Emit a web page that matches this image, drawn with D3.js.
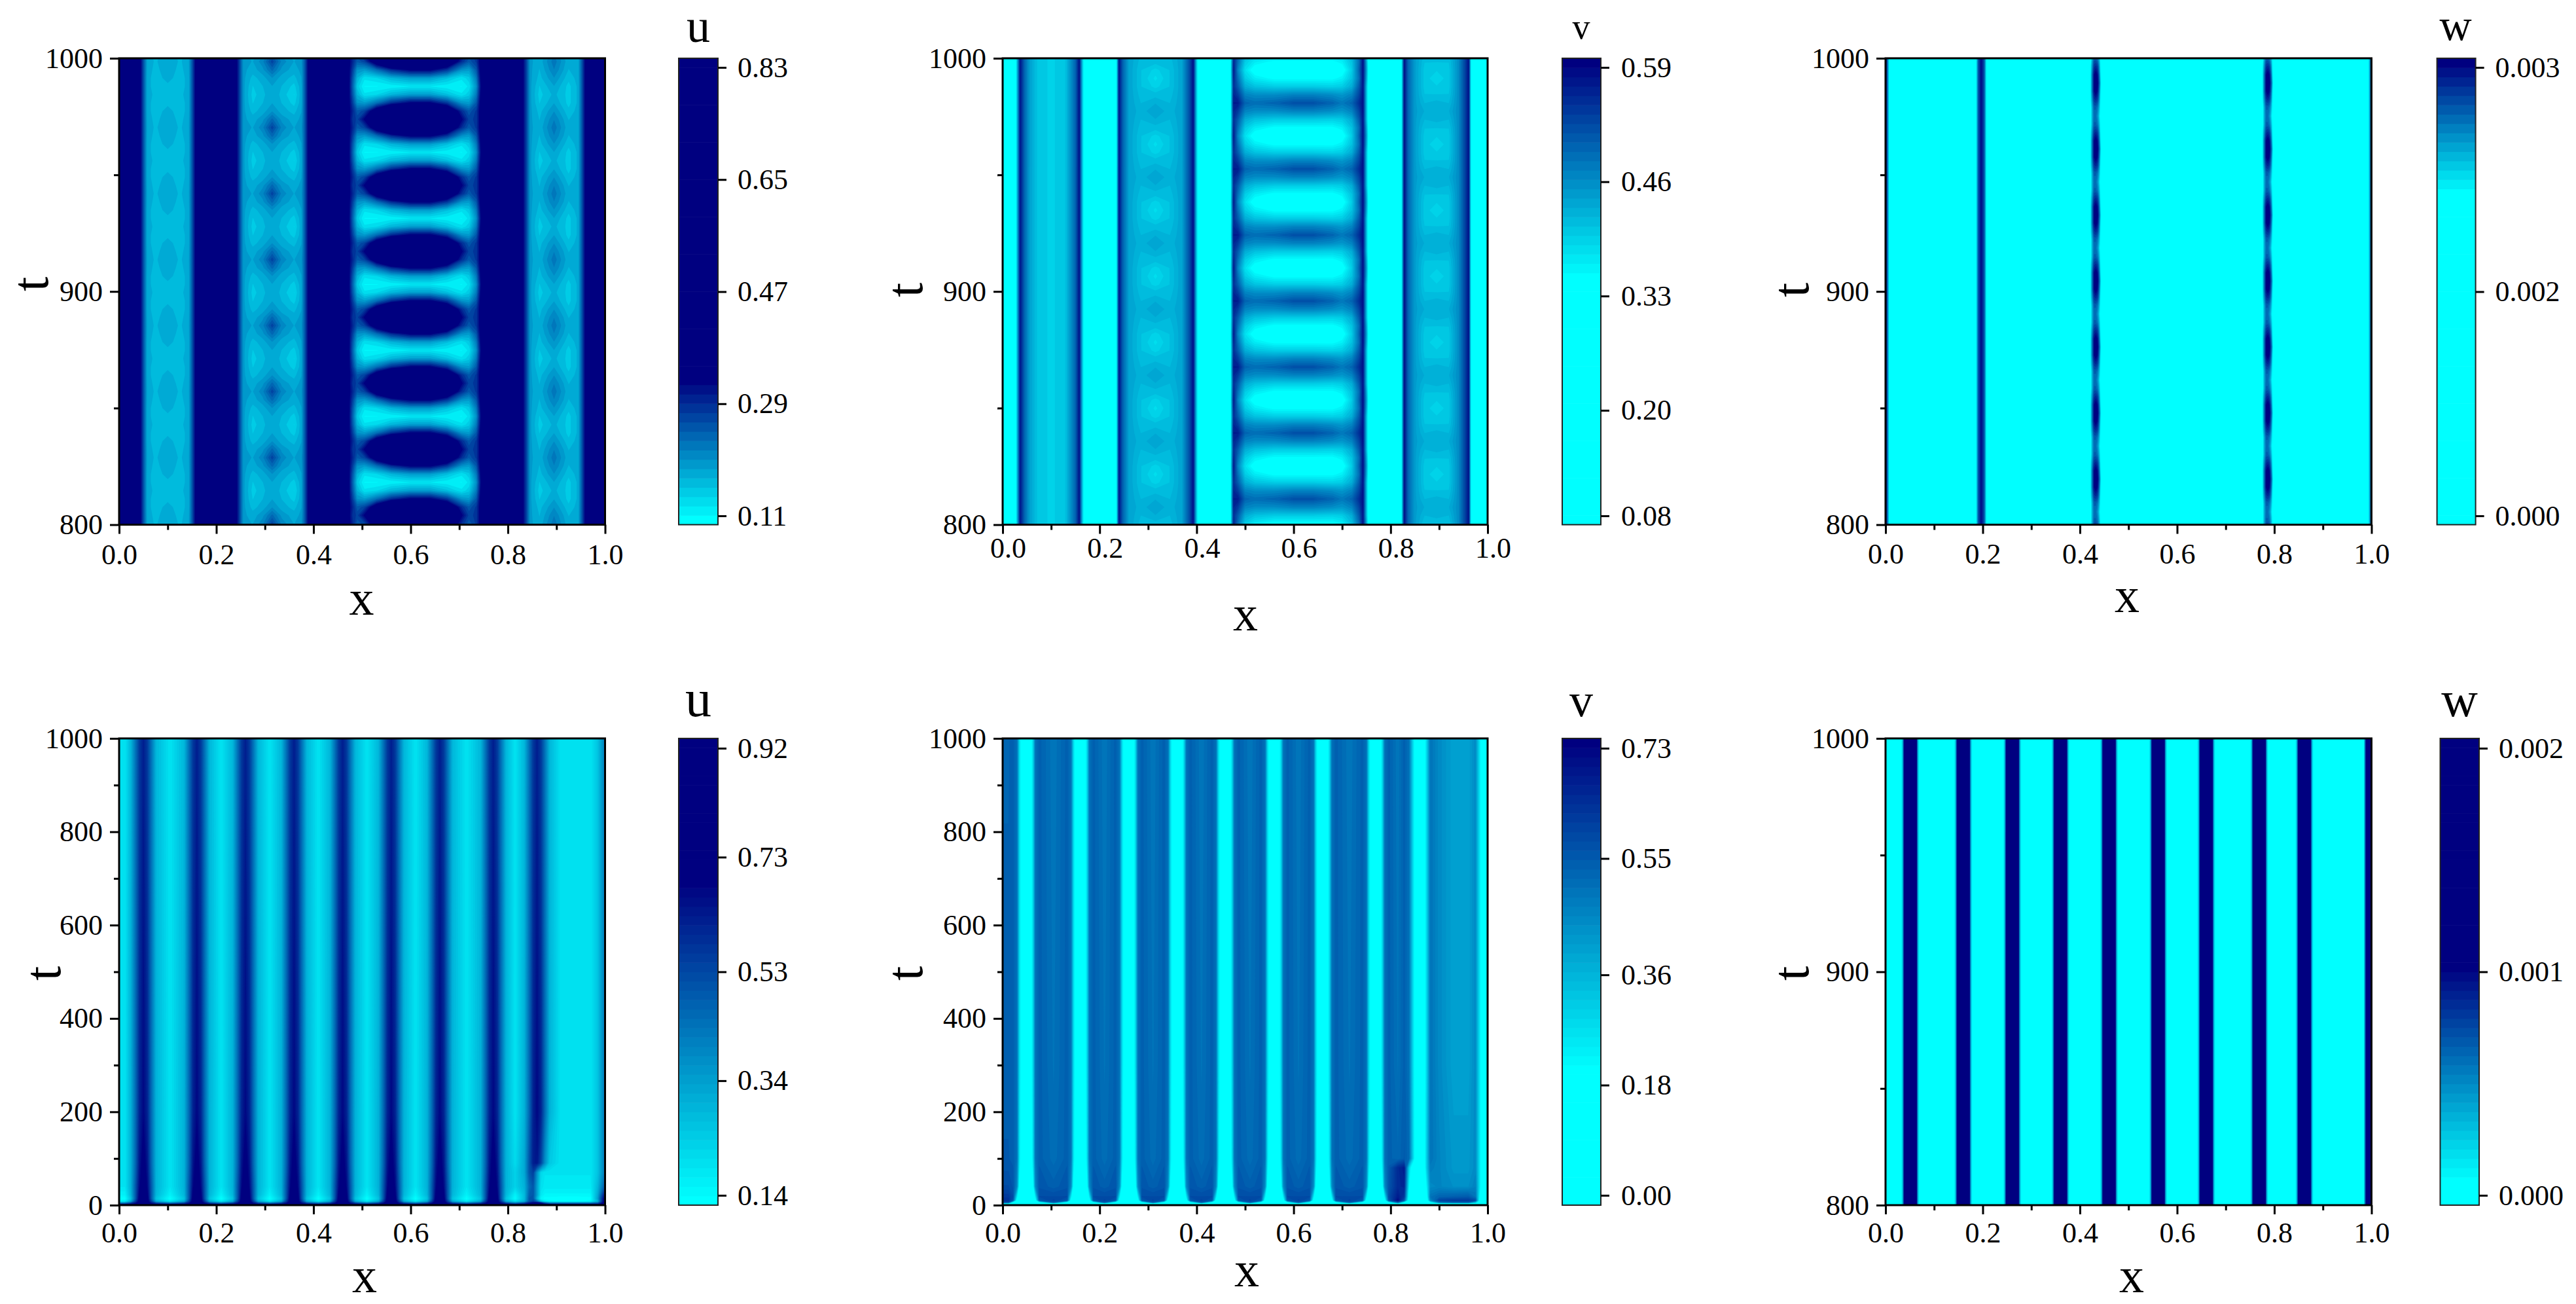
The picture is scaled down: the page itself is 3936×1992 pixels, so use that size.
<!DOCTYPE html>
<html><head><meta charset="utf-8">
<style>
html,body{margin:0;padding:0;background:#fff}
svg{display:block}
text{font-family:"Liberation Serif","Times New Roman",serif;fill:#000}
</style>
<script src="https://cdn.jsdelivr.net/npm/d3@7/dist/d3.min.js"></script>
</head><body><svg id="fig" width="3936" height="1992"></svg>
<script>
// ---------- Shared ticks ----------
const xTicks = [0, 0.2, 0.4, 0.6, 0.8, 1.0];
const xMinor = [0.1, 0.3, 0.5, 0.7, 0.9];
const tTicksShort = [800, 900, 1000];
const tMinorShort = [850, 950];
const tTicksLong = [0, 200, 400, 600, 800, 1000];
const tMinorLong = [100, 300, 500, 700, 900];

// ---------- Row timing of the oscillating top panels ----------
const uBlobCentres = [775.7, 804, 832.3, 860.6, 888.9, 917.2, 945.5, 973.8, 1002.1];
const vStripeCentres = [782.7, 811, 839.3, 867.6, 895.9, 924.2, 952.5, 980.8, 1009.1];
const wThickCentres = [791.3, 819.6, 847.9, 876.2, 904.5, 932.8, 961.1, 989.4, 1017.7];
const phaseOffsets = [0, 3.54, 7.07, 10.6, 14.15, 17.7, 21.2, 24.8];
const midPhase = [0, 1, 2, 3, 4, 3, 2, 1];
const sidePhase = [1, 2, 3, 4, 3, 2, 1, 0];

// ---------- Top u ----------
const uTopX = [-.01,.02,.043,.05,.058,.075,.10,.125,.143,.151,.158,.20,.241,.248,.256,.275,.295,.315,.335,.36,.375,.382,.39,.43,
  .472,.48,.49,.505,.53,.56,.60,.64,.675,.705,.72,.735,.745,
  .755,.79,.83,.838,.846,.865,.895,.925,.945,.953,.96,.98,1.01];
const uTopSideA = [
  [.6,.6,.34,.26,.18,.168,.185,.168,.18,.26,.34,.6,.34,.27,.19,.185,.21,.27,.21,.185,.195,.25,.34,.6],
  [.6,.6,.34,.26,.178,.166,.18,.166,.178,.26,.34,.6,.34,.27,.19,.178,.195,.235,.195,.178,.19,.25,.34,.6],
  [.6,.6,.34,.26,.175,.165,.175,.165,.175,.26,.34,.6,.34,.27,.19,.165,.178,.20,.178,.165,.185,.25,.34,.6],
  [.6,.6,.34,.26,.175,.165,.168,.165,.175,.26,.34,.6,.34,.27,.19,.155,.17,.185,.17,.15,.18,.25,.34,.6],
  [.6,.6,.34,.26,.175,.168,.165,.168,.175,.26,.34,.6,.34,.27,.19,.15,.165,.185,.165,.14,.18,.25,.34,.6]
];
const uTopMid = [
  [.34,.29,.27,.33,.5,.6,.65,.65,.55,.33,.27,.28,.35],
  [.34,.30,.25,.27,.38,.48,.52,.52,.42,.29,.25,.28,.35],
  [.34,.28,.20,.19,.23,.29,.33,.33,.28,.20,.19,.25,.35],
  [.34,.26,.17,.13,.14,.17,.19,.19,.16,.13,.15,.22,.34],
  [.34,.25,.15,.11,.11,.115,.125,.125,.115,.11,.13,.20,.33]
];
const uTopSideB = [
  [.5,.6,.34,.27,.19,.175,.225,.175,.18,.26,.34,.6,.6],
  [.5,.6,.34,.27,.19,.17,.215,.17,.18,.26,.34,.6,.6],
  [.5,.6,.34,.27,.19,.165,.20,.16,.178,.26,.34,.6,.6],
  [.5,.6,.34,.27,.19,.155,.185,.15,.175,.26,.34,.6,.6],
  [.5,.6,.34,.27,.19,.15,.175,.15,.175,.26,.34,.6,.6]
];

// ---------- Top v ----------
const vTopX = [-.01,.024,.03,.036,.045,.055,.07,.10,.13,.15,.158,.164,.172,.232,.24,.248,.26,.285,.315,.345,.37,.385,.393,.40,.408,.46,
  .467,.476,.485,.50,.52,.56,.60,.64,.68,.70,.72,.735,.743,.75,.758,
  .82,.828,.836,.85,.87,.895,.92,.94,.955,.961,.968,1.01];
const vTopSideA = [
  [.25,.25,.42,.575,.50,.445,.41,.395,.41,.50,.58,.42,.25,.25,.575,.50,.44,.425,.44,.425,.44,.52,.58,.40,.25,.25],
  [.25,.25,.42,.575,.50,.445,.41,.395,.41,.50,.58,.42,.25,.25,.575,.50,.44,.42,.43,.42,.44,.52,.58,.40,.25,.25],
  [.25,.25,.42,.575,.50,.445,.41,.395,.41,.50,.58,.42,.25,.25,.575,.50,.44,.415,.415,.415,.44,.52,.58,.40,.25,.25],
  [.25,.25,.42,.575,.50,.445,.41,.395,.41,.50,.58,.42,.25,.25,.575,.50,.44,.41,.395,.41,.44,.52,.58,.40,.25,.25],
  [.25,.25,.42,.575,.50,.445,.41,.395,.41,.50,.58,.42,.25,.25,.575,.50,.44,.41,.385,.41,.44,.52,.58,.40,.25,.25]
];
const vTopMid = [
  [.25,.57,.57,.50,.49,.50,.52,.52,.50,.48,.50,.55,.58,.42,.25],
  [.25,.56,.54,.47,.46,.46,.47,.47,.46,.45,.47,.53,.58,.42,.25],
  [.25,.55,.51,.43,.41,.40,.40,.40,.395,.40,.43,.51,.575,.42,.25],
  [.25,.56,.49,.40,.37,.35,.35,.35,.35,.365,.41,.49,.58,.44,.25],
  [.25,.57,.47,.38,.335,.31,.30,.30,.31,.335,.40,.50,.58,.45,.25]
];
const vTopSideB = [
  [.25,.58,.50,.445,.43,.43,.43,.46,.54,.58,.25,.25],
  [.25,.58,.50,.445,.42,.425,.42,.46,.54,.58,.25,.25],
  [.25,.58,.50,.445,.41,.41,.41,.46,.54,.58,.25,.25],
  [.25,.58,.50,.445,.405,.40,.405,.46,.54,.58,.25,.25],
  [.25,.58,.50,.445,.405,.39,.405,.46,.54,.58,.25,.25]
];

// ---------- Top w ----------
const wTopX = [-.01,.002,.006,.01,.183,.187,.191,.197,.203,.207,.211,
  .416,.421,.425,.429,.433,.437,.441,.446,
  .77,.775,.779,.783,.787,.791,.795,.80,
  .988,.994,1.0,1.01];
const wTopEdgeLeft = [.0029,.0029,.0024,.0015,.0015,.00225,.00275,.0030,.00275,.00225,.0015];
const wTopLine = [
  [.0015,.0021,.0026,.0030,.0032,.0030,.0026,.0016],
  [.0015,.0021,.0026,.0030,.0031,.00295,.0025,.0015],
  [.0015,.0021,.0025,.00285,.0029,.0028,.0024,.0015],
  [.0015,.0020,.0024,.0027,.0027,.0026,.0023,.0015],
  [.0015,.0020,.0024,.00265,.00265,.0025,.0022,.0015]
];
const wTopEdgeRight = [.0015,.0022,.0029,.0029];

// ---------- Bottom u ----------
const uLowStripes = [.05,.16,.26,.36,.46,.56,.66,.77];
const uLowBands = [.105,.21,.31,.41,.51,.61,.715];
const uLowOffsets = [.008,.016,.026];
const uLowRightX = [.815,.834,.844,.852,.86,.868,.876,.886,.91,.94,.97,.985,1.0,1.01];
const uLowT = [-5,0,4,8,14,22,40,70,90,200,1005];
const uLowCell = [
  [.78,.78,.78,.78,.78],[.78,.78,.78,.78,.78],[.78,.78,.67,.56,.45],[.78,.73,.56,.32,.18],
  [.78,.72,.50,.26,.13],[.78,.70,.50,.29,.16],[.75,.67,.50,.30,.19],[.73,.65,.48,.30,.19],
  [.72,.64,.47,.30,.19],[.67,.61,.46,.30,.19],[.62,.56,.44,.29,.19]
];
const uLowRight = [
  [.78,.78,.78,.78,.78,.78,.78,.78,.78,.78,.78,.78,.78,.78],
  [.78,.78,.78,.78,.78,.78,.78,.78,.78,.78,.78,.78,.78,.78],
  [.45,.56,.67,.73,.78,.73,.56,.45,.45,.45,.45,.51,.78,.78],
  [.20,.30,.50,.55,.45,.26,.18,.15,.13,.13,.15,.29,.78,.78],
  [.14,.28,.50,.50,.29,.15,.13,.13,.12,.12,.13,.34,.75,.75],
  [.16,.28,.48,.50,.34,.18,.15,.15,.15,.15,.15,.32,.67,.67],
  [.23,.30,.45,.50,.34,.20,.18,.18,.18,.18,.18,.29,.51,.51],
  [.23,.32,.50,.55,.37,.22,.19,.19,.19,.19,.19,.26,.43,.43],
  [.21,.32,.50,.62,.64,.54,.38,.25,.19,.19,.19,.26,.43,.43],
  [.19,.30,.46,.61,.67,.61,.46,.30,.19,.19,.19,.26,.43,.43],
  [.19,.29,.44,.56,.62,.56,.44,.29,.19,.19,.19,.26,.42,.42]
];

// ---------- Bottom v ----------
const vLowStripes = [.0485,.16,.26,.36,.459,.56,.66,.769];
const vLowBands = [.105,.21,.31,.41,.51,.61,.715];
const vLowOffsets = [.008,.014,.019,.027];
const vLowRightX = [.815,.828,.838,.846,.852,.86,.868,.874,.882,.90,.93,.96,.975,.984,.99,1.0,1.01];
const vLowT = [-5,0,3,6,10,18,40,80,100,300,1005];
const vLowCell = [
  [.1,.1,.1,.1,.1,.1],[.1,.1,.1,.1,.1,.1],[.1,.1,.1,.1,.12,.15],[.1,.1,.1,.12,.19,.55],
  [.1,.1,.1,.15,.55,.60],[.1,.1,.1,.25,.58,.58],[.1,.1,.17,.45,.56,.54],[.1,.12,.24,.48,.55,.52],
  [.1,.13,.26,.50,.54,.51],[.1,.14,.28,.50,.54,.50],[.1,.14,.28,.50,.54,.49]
];
const vLowRight = [
  [.1,.1,.1,.1,.1,.1,.1,.1,.1,.1,.1,.1,.1,.1,.1,.1,.1],
  [.1,.1,.1,.1,.1,.1,.1,.1,.1,.1,.1,.1,.1,.1,.1,.1,.1],
  [.15,.1,.1,.1,.1,.1,.1,.1,.1,.14,.15,.15,.12,.1,.1,.1,.1],
  [.55,.2,.1,.1,.1,.1,.1,.1,.2,.5,.55,.55,.35,.1,.1,.1,.1],
  [.72,.55,.12,.1,.1,.1,.1,.1,.45,.6,.62,.62,.58,.15,.1,.1,.1],
  [.68,.62,.15,.1,.1,.1,.1,.15,.5,.53,.54,.55,.5,.2,.1,.1,.1],
  [.65,.66,.22,.1,.1,.1,.1,.22,.45,.46,.44,.44,.47,.25,.1,.1,.1],
  [.65,.68,.30,.12,.1,.1,.12,.3,.48,.46,.42,.42,.45,.25,.1,.1,.1],
  [.52,.55,.52,.30,.14,.1,.14,.3,.5,.46,.42,.42,.45,.25,.1,.1,.1],
  [.50,.54,.50,.28,.14,.1,.14,.28,.50,.45,.40,.40,.45,.25,.1,.1,.1],
  [.49,.54,.50,.28,.14,.1,.14,.28,.50,.45,.40,.40,.45,.25,.1,.1,.1]
];

// ---------- Bottom w ----------
const wLowStripes = [.051,.160,.261,.360,.460,.561,.660,.769,.862];
const wLowOffsets = [.009,.012,.015,.019];
const wLowCell = [.002,.002,.0012,.0004,0];
const wLowEdgeX = [.984,.99,1.0,1.01];
const wLowEdge = [0,.0012,.002,.002];
const wLowT = [795,1005];

// ---------- Colour bar ticks ----------
const uTopBarTicks = [.11,.29,.47,.65,.83];
const vTopBarTicks = [.08,.20,.33,.46,.59];
const wTopBarTicks = [0,.0015,.003];
const uLowBarTicks = [.14,.34,.53,.73,.92];
const vLowBarTicks = [0,.18,.36,.55,.73];
const wLowBarTicks = [0,.001,.002];
const wTopBarLabels = ["0.000","0.002","0.003"];
const wLowBarLabels = ["0.000","0.001","0.002"];

// ---------- Grid assembly from the read-off rows ----------
function topGrid(centres, rowFn){
  const t = [], rows = [];
  centres.forEach(c => phaseOffsets.forEach((o,k) => { t.push(c+o); rows.push(rowFn(k)); }));
  return {t, rows};
}
function stripeKnots(stripes, bands, offs, rightX, leftX){
  const x = leftX.slice();
  stripes.forEach((c,i) => {
    [...offs].reverse().forEach(o => x.push(c-o));
    x.push(c);
    offs.forEach(o => x.push(c+o));
    if (i < bands.length) x.push(bands[i]);
  });
  return x.concat(rightX);
}
function stripeRow(cell, stripes, bands, n, right, left, leftVal){
  const off = cell.slice(1, n+1), mid = cell[n+1], r = left.map(() => leftVal);
  stripes.forEach((c,i) => {
    [...off].reverse().forEach(v => r.push(v));
    r.push(cell[0]);
    off.forEach(v => r.push(v));
    if (i < bands.length) r.push(mid);
  });
  return r.concat(right);
}
const leftEnd = [-.01,0,.012];

const gridUTop = Object.assign(topGrid(uBlobCentres, k => uTopSideA[sidePhase[k]].concat(uTopMid[midPhase[k]], uTopSideB[sidePhase[k]])), {x:uTopX});
const gridVTop = Object.assign(topGrid(vStripeCentres, k => vTopSideA[sidePhase[k]].concat(vTopMid[midPhase[k]], vTopSideB[sidePhase[k]])), {x:vTopX});
const gridWTop = Object.assign(topGrid(wThickCentres, k => wTopEdgeLeft.concat(wTopLine[midPhase[k]], wTopLine[midPhase[k]], wTopEdgeRight)), {x:wTopX});
const gridULow = {
  x: stripeKnots(uLowStripes, uLowBands, uLowOffsets, uLowRightX, leftEnd), t: uLowT,
  rows: uLowT.map((_,i) => stripeRow(uLowCell[i], uLowStripes, uLowBands, 3, uLowRight[i], leftEnd, uLowCell[i][4]))
};
const gridVLow = {
  x: stripeKnots(vLowStripes, vLowBands, vLowOffsets, vLowRightX, leftEnd), t: vLowT,
  rows: vLowT.map((_,i) => stripeRow(vLowCell[i], vLowStripes, vLowBands, 4, vLowRight[i], leftEnd, vLowCell[i][5]+.04))
};
const wLowKnots = [-.01,0];
const wLowVals = [0,0];
wLowStripes.forEach(c => {
  [...wLowOffsets].reverse().forEach((o,i) => { wLowKnots.push(c-o); wLowVals.push(wLowCell[4-i]); });
  wLowKnots.push(c); wLowVals.push(wLowCell[0]);
  wLowOffsets.forEach((o,i) => { wLowKnots.push(c+o); wLowVals.push(wLowCell[i+1]); });
});
const gridWLow = {x: wLowKnots.concat(wLowEdgeX), t: wLowT, rows: wLowT.map(() => wLowVals.concat(wLowEdge))};

// ---------- Layout of the six panels ----------
const rowTop = {y0:89, y1:801.5, barTopTick:103, barLowTick:788};
const rowLow = {y0:1128, y1:1841, barTopTick:1143, barLowTick:1826};
const panels = [
 {grid:gridUTop, row:rowTop, px:[182,924.5], bar:[1037,1097], tT:tTicksShort, tM:tMinorShort, ticks:uTopBarTicks, fmt:d3.format(".2f"), cyan:0, navy:15,
  name:"u", nameX:1067, nameY:64, nameSize:72, xlY:939, xlX:552.5, tlX:73, tlY:434, xPad:15, xDx:0, barLabelGap:17},
 {grid:gridVTop, row:rowTop, px:[1532,2273], bar:[2387,2446], tT:tTicksShort, tM:tMinorShort, ticks:vTopBarTicks, fmt:d3.format(".2f"), cyan:26, navy:49,
  name:"v", nameX:2416, nameY:59, nameSize:54, xlY:963, xlX:1903, tlX:1409, tlY:443, xPad:5, xDx:8, barLabelGap:18},
 {grid:gridWTop, row:rowTop, px:[2881,3623.5], bar:[3723.6,3782.6], tT:tTicksShort, tM:tMinorShort, ticks:wTopBarTicks, labels:wTopBarLabels, cyan:35, navy:49,
  name:"w", nameX:3752, nameY:61, nameSize:68, xlY:935, xlX:3250, tlX:2763, tlY:443, xPad:14, xDx:0, barLabelGap:17},
 {grid:gridULow, row:rowLow, px:[182,924.5], bar:[1037,1097], tT:tTicksLong, tM:tMinorLong, ticks:uLowBarTicks, fmt:d3.format(".2f"), cyan:0, navy:34,
  name:"u", nameX:1067, nameY:1094, nameSize:80, xlY:1974, xlX:557, tlX:92, tlY:1487, tDomain:[0,1000], xPad:12, xDx:0, barLabelGap:17},
 {grid:gridVLow, row:rowLow, px:[1532,2273], bar:[2387,2446], tT:tTicksLong, tM:tMinorLong, ticks:vLowBarTicks, fmt:d3.format(".2f"), cyan:14, navy:49,
  name:"v", nameX:2416, nameY:1094, nameSize:72, xlY:1965, xlX:1905, tlX:1409, tlY:1487, tDomain:[0,1000], xPad:12, xDx:0, barLabelGap:18},
 {grid:gridWLow, row:rowLow, px:[2881,3623.5], bar:[3728.5,3788], tT:tTicksShort, tM:tMinorShort, ticks:wLowBarTicks, labels:wLowBarLabels, cyan:2, navy:25,
  name:"w", nameX:3758, nameY:1094, nameSize:77, xlY:1974, xlX:3257, tlX:2763, tlY:1487, xPad:12, xDx:0, barLabelGap:17}
];

const svg = d3.select("#fig");
svg.append("rect").attr("width",3936).attr("height",1992).attr("fill","#fff");
const ramp = d3.interpolateRgb("#00ffff","#000080");
const LEVELS = 50, tickFont = 44, axisFont = 76, tFont = 80, lw = 3;

panels.forEach((p,pi) => {
  const {grid,row} = p;
  const xS = d3.scaleLinear().domain([0,1]).range(p.px);
  const tS = d3.scaleLinear().domain(p.tDomain || [800,1000]).range([row.y1,row.y0]);
  const tickLo = p.ticks[0], tickHi = p.ticks[p.ticks.length-1];
  const barS = d3.scaleLinear().domain([tickLo,tickHi]).range([row.barLowTick,row.barTopTick]);
  const lo = barS.invert(row.y1), hi = barS.invert(row.y0), step = (hi-lo)/LEVELS;
  const bandColor = i => ramp(Math.max(0,Math.min(1,(i-p.cyan)/(p.navy-p.cyan))));
  const levels = d3.range(LEVELS);

  // Filled contours
  const clipId = "clip"+pi;
  svg.append("clipPath").attr("id",clipId).append("rect")
     .attr("x",p.px[0]).attr("y",row.y0).attr("width",p.px[1]-p.px[0]).attr("height",row.y1-row.y0);
  const g = svg.append("g").attr("clip-path",`url(#${clipId})`);
  g.append("rect").attr("x",p.px[0]).attr("y",row.y0).attr("width",p.px[1]-p.px[0]).attr("height",row.y1-row.y0).attr("fill",bandColor(0));
  const nx = grid.x.length, ny = grid.t.length;
  const flat = grid.rows.flat();
  const gx = d3.scaleLinear().domain(d3.range(nx)).range(grid.x);
  const gy = d3.scaleLinear().domain(d3.range(ny)).range(grid.t);
  const path = d3.geoPath(d3.geoTransform({point(a,b){ this.stream.point(xS(gx(a-.5)), tS(gy(b-.5))); }}));
  const drawn = levels.filter(i => i>0 && bandColor(i)!==bandColor(i-1));
  const cs = d3.contours().size([nx,ny]).thresholds(drawn.map(i => lo+i*step))(flat);
  g.selectAll("path").data(cs).join("path")
    .attr("d",path).attr("fill",(d,i) => bandColor(drawn[i])).attr("stroke","none");

  // Frame
  svg.append("rect").attr("x",p.px[0]).attr("y",row.y0).attr("width",p.px[1]-p.px[0]).attr("height",row.y1-row.y0)
     .attr("fill","none").attr("stroke","#000").attr("stroke-width",lw);

  // Axes
  const styleAxis = s => { s.select(".domain").remove(); s.selectAll("line").attr("stroke","#000").attr("stroke-width",lw);
                           s.selectAll("text").attr("font-size",tickFont).attr("font-family",null).attr("fill","#000"); };
  svg.append("g").attr("transform",`translate(0,${row.y1})`)
     .call(d3.axisBottom(xS).tickValues(xTicks).tickFormat(d3.format(".1f")).tickSize(14).tickPadding(p.xPad))
     .call(styleAxis).selectAll("text").attr("dx",p.xDx);
  svg.append("g").attr("transform",`translate(0,${row.y1})`)
     .call(d3.axisBottom(xS).tickValues(xMinor).tickFormat("").tickSize(8)).call(styleAxis);
  svg.append("g").attr("transform",`translate(${p.px[0]},0)`)
     .call(d3.axisLeft(tS).tickValues(p.tT).tickFormat(d3.format("d")).tickSize(14).tickPadding(11)).call(styleAxis);
  svg.append("g").attr("transform",`translate(${p.px[0]},0)`)
     .call(d3.axisLeft(tS).tickValues(p.tM).tickFormat("").tickSize(8)).call(styleAxis);

  // Axis titles
  svg.append("text").attr("x",p.xlX).attr("y",p.xlY).attr("text-anchor","middle").attr("font-size",axisFont).text("x");
  svg.append("text").attr("transform",`translate(${p.tlX},${p.tlY}) rotate(-90)`).attr("text-anchor","middle").attr("font-size",tFont).text("t");

  // Colour bar
  const bg = svg.append("g");
  bg.selectAll("rect").data(levels).join("rect")
    .attr("x",p.bar[0]).attr("width",p.bar[1]-p.bar[0])
    .attr("y",i => barS(lo+(i+1)*step)).attr("height",i => barS(lo+i*step)-barS(lo+(i+1)*step)+.6)
    .attr("fill",bandColor);
  bg.append("rect").attr("x",p.bar[0]).attr("y",row.y0).attr("width",p.bar[1]-p.bar[0]).attr("height",row.y1-row.y0)
    .attr("fill","none").attr("stroke","#222").attr("stroke-width",2);
  const barAxis = d3.axisRight(barS).tickValues(p.ticks).tickSize(13).tickPadding(p.barLabelGap);
  barAxis.tickFormat(p.labels ? ((d,i) => p.labels[i]) : p.fmt);
  svg.append("g").attr("transform",`translate(${p.bar[1]},0)`).call(barAxis).call(styleAxis);
  svg.append("text").attr("x",p.nameX).attr("y",p.nameY).attr("text-anchor","middle").attr("font-size",p.nameSize).text(p.name);
});
</script></body></html>
